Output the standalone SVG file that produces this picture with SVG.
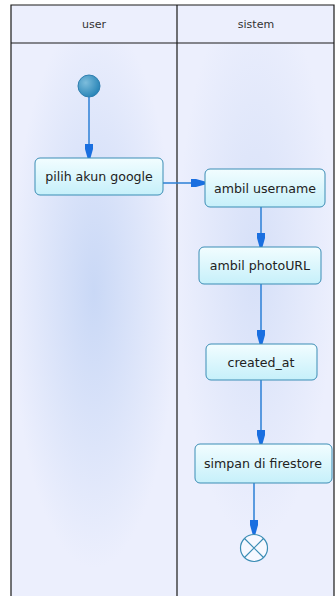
<svg xmlns="http://www.w3.org/2000/svg" width="335" height="596" viewBox="0 0 335 596">
<style>
.lane{stroke:#1a1a1a;stroke-width:1.2;fill:none}
.hdr{font-family:"DejaVu Sans",Verdana,sans-serif;font-size:11px;fill:#333;text-anchor:middle}
.act rect{fill:url(#nodeFill);stroke:#3b8db5;stroke-width:1}
.act text{font-family:"DejaVu Sans",Verdana,sans-serif;font-size:12.6px;fill:#222;text-anchor:middle}
.edge{stroke:#2b7fd6;stroke-width:1.5;fill:none;marker-end:url(#arr)}
</style>
<defs>
<linearGradient id="nodeFill" x1="0" y1="0" x2="0" y2="1">
<stop offset="0" stop-color="#f2fdff"/>
<stop offset="1" stop-color="#c6f0fa"/>
</linearGradient>
<radialGradient id="glowL" cx="0.5" cy="0.45" r="0.5">
<stop offset="0" stop-color="#c9d8f6"/>
<stop offset="1" stop-color="#eceffd"/>
</radialGradient>
<radialGradient id="glowR" cx="0.5" cy="0.4" r="0.5">
<stop offset="0" stop-color="#d6e0f8"/>
<stop offset="1" stop-color="#eceffd"/>
</radialGradient>
<radialGradient id="startFill" cx="0.35" cy="0.35" r="0.7">
<stop offset="0" stop-color="#7dbddc"/>
<stop offset="1" stop-color="#2683b6"/>
</radialGradient>
<marker id="arr" markerUnits="userSpaceOnUse" markerWidth="16" markerHeight="10" viewBox="-15 -5 16 10" refX="0" refY="0" orient="auto">
<path d="M-14,-4 L-9,-4 L0,-1.5 L0,1.5 L-9,4 L-14,4 Z" fill="#1a6fe0"/>
</marker>
</defs>
<rect x="0" y="0" width="335" height="596" fill="#ffffff"/>
<rect x="11" y="5" width="323" height="591" fill="#eceffd"/>
<rect x="11" y="43" width="166" height="553" fill="url(#glowL)"/>
<rect x="177" y="43" width="157" height="553" fill="url(#glowR)"/>
<g id="lanes">
<path class="lane" d="M11,596 V5 H334 V596 M11,43 H334 M177,5 V596"/>
<text class="hdr" x="94" y="28">user</text>
<text class="hdr" x="256" y="28">sistem</text>
</g>
<g id="connectors">
<path class="edge" d="M89,97 V158"/>
<path class="edge" d="M163,183 H205"/>
<path class="edge" d="M261,207 V247"/>
<path class="edge" d="M261,284 V344"/>
<path class="edge" d="M261,380 V444"/>
<path class="edge" d="M254,483 V534"/>
</g>
<g id="start">
<circle cx="89" cy="86" r="11" fill="url(#startFill)" stroke="#2f7fb0" stroke-width="1"/>
</g>
<g id="pilih" class="act">
<rect x="35" y="158" width="128" height="37" rx="5"/>
<text x="99" y="181">pilih akun google</text>
</g>
<g id="username" class="act">
<rect x="205" y="169" width="120" height="38" rx="5"/>
<text x="265" y="192.5">ambil username</text>
</g>
<g id="photo" class="act">
<rect x="199" y="247" width="122" height="37" rx="5"/>
<text x="260" y="270">ambil photoURL</text>
</g>
<g id="created" class="act">
<rect x="206" y="344" width="111" height="36" rx="5"/>
<text x="261" y="366.5">created_at</text>
</g>
<g id="simpan" class="act">
<rect x="195" y="444" width="137" height="39" rx="5"/>
<text x="263" y="468">simpan di firestore</text>
</g>
<g id="end">
<circle cx="254" cy="548" r="13.5" fill="#f6f8ff" stroke="#3b8db5" stroke-width="1.2"/>
<path d="M244.5,538.5 L263.5,557.5 M263.5,538.5 L244.5,557.5" stroke="#3b8db5" stroke-width="1.2"/>
</g>
</svg>
